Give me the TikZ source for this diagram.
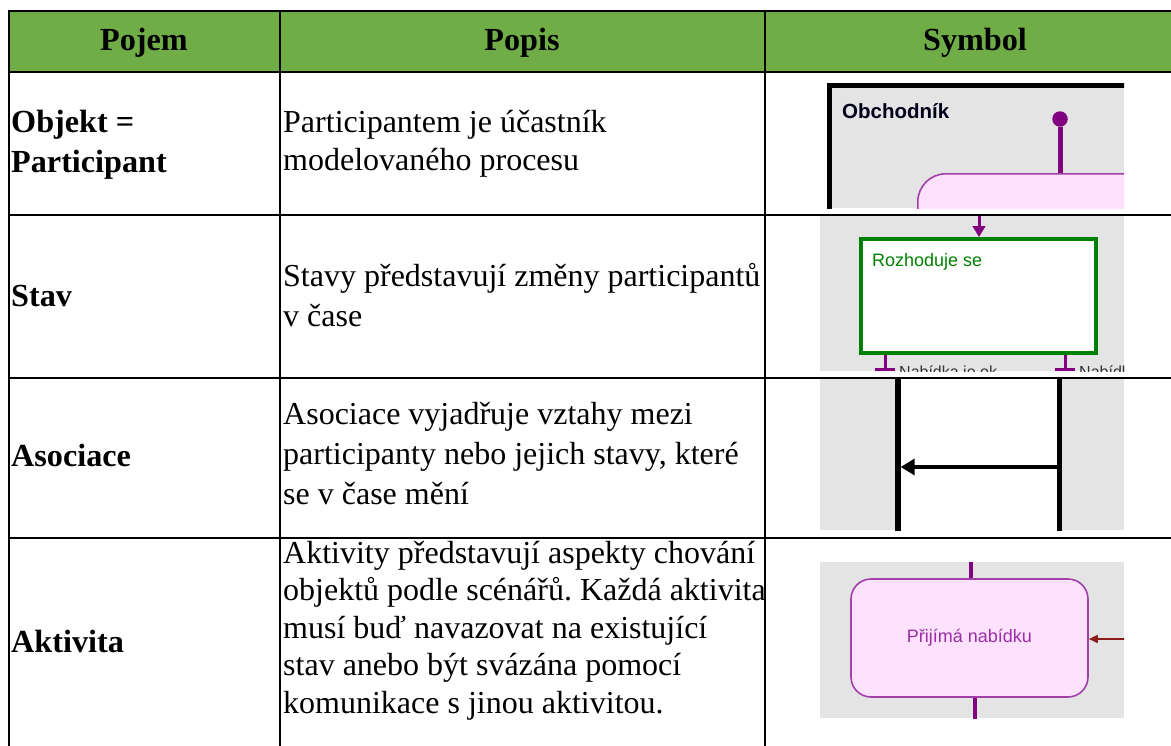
\documentclass[tikz,border=0pt]{standalone}
\usepackage{fontspec}
\setmainfont{Liberation Serif}
\newfontfamily\symsans{Liberation Sans}
\usetikzlibrary{arrows.meta}

\definecolor{hdrgreen}{HTML}{70AD47}
\definecolor{symgray}{HTML}{E4E4E4}
\definecolor{actpink}{HTML}{FDE1FD}
\definecolor{actedge}{HTML}{A040A8}
\definecolor{acttext}{HTML}{9A2FA6}
\definecolor{flowpurple}{HTML}{800080}
\definecolor{stategreen}{HTML}{008000}
\definecolor{msgred}{HTML}{8B1A1A}
\definecolor{labelgray}{HTML}{333333}

% stacked lines with a fixed baseline distance; the box baseline is the first line
\newcommand{\celllines}[2]{\vtop{\baselineskip=#1\relax\lineskip=0pt\lineskiplimit=-100pt #2}}
\frenchspacing

\begin{document}
\begin{tikzpicture}[x=1pt,y=-1pt,
  gridline/.style={line width=2.2pt,black},
  hdrtext/.style={font=\fontsize{32.2}{38}\selectfont\bfseries,anchor=base,inner sep=0pt},
  termtext/.style={font=\fontsize{32.2}{38}\selectfont\bfseries,anchor=base west,inner sep=0pt},
  desctext/.style={font=\fontsize{32}{38}\selectfont,anchor=base west,inner sep=0pt},
  symlabel/.style={font=\symsans\fontsize{18}{21}\selectfont,inner sep=0pt},
  flowline/.style={flowpurple,line width=3pt},
  actbox/.style={draw=actedge,fill=actpink,line width=1.6pt,inner sep=0pt}
]
\useasboundingbox (0,0) rectangle (1171,745);
\fill[white] (0,0) rectangle (1171,745);

% header band
\fill[hdrgreen] (9,11) rectangle (1180,72);

% table rules
\foreach \yy in {11,72,215,378,538}
  \draw[gridline] (8,\yy) -- (1180,\yy);
\foreach \xx in {9,280,765}
  \draw[gridline] (\xx,10) -- (\xx,746);

% header
\node[hdrtext] (hPojem) at (144,50) {Pojem};
\node[hdrtext] (hPopis) at (522,50) {Popis};
\node[hdrtext] (hSymbol) at (975,50) {Symbol};

% row 1
\node[termtext] (tObjekt) at (11,132) {\celllines{40pt}{\hbox{Objekt =}\hbox{Participant}}};
\node[desctext] (dObjekt) at (283,132) {\celllines{38pt}{\hbox{Participantem je účastník}\hbox{modelovaného procesu}}};
% row 2
\node[termtext] (tStav) at (11,306) {Stav};
\node[desctext] (dStav) at (283,286) {\celllines{40pt}{\hbox{Stavy představují změny participantů}\hbox{v čase}}};
% row 3
\node[termtext] (tAsoc) at (11,466) {Asociace};
\node[desctext] (dAsoc) at (283,424) {\celllines{40pt}{\hbox{Asociace vyjadřuje vztahy mezi}\hbox{participanty nebo jejich stavy, které}\hbox{se v čase mění}}};
% row 4
\node[termtext] (tAkt) at (11,652) {Aktivita};
\node[desctext] (dAkt) at (283,563) {\celllines{37.5pt}{\hbox{Aktivity představují aspekty chování}\hbox{objektů podle scénářů. Každá aktivita}\hbox{musí buď navazovat na existující}\hbox{stav anebo být svázána pomocí}\hbox{komunikace s jinou aktivitou.}}};

% symbol 1: participant lane
\begin{scope}
  \clip (820,73.2) rectangle (1124,208);
  \fill[white] (820,73.2) rectangle (1124,208);
  \fill[symgray] (827,83) rectangle (1124,208);
  \draw[line width=5pt] (829.5,210) -- (829.5,85.5) -- (1130,85.5);
  \node[font=\symsans\bfseries\fontsize{20.5}{24}\selectfont,anchor=base west,inner sep=0pt,text=black!90!blue] (lane) at (842,118.5) {Obchodník};
  \node[circle,fill=flowpurple,minimum size=15.5pt,inner sep=0pt] (startdot) at (1060,119) {};
  \node[actbox,rounded corners=28pt,minimum width=330pt,minimum height=120pt,anchor=north west] (act1) at (917,173) {};
  \draw[flowpurple,line width=5pt] (startdot) -- (act1.north west -| startdot);
\end{scope}

% symbol 2: state
\begin{scope}
  \clip (820,216.2) rectangle (1124,371);
  \fill[symgray] (820,216.2) rectangle (1124,371);
  \node[draw=stategreen,fill=white,line width=4.3pt,minimum width=234.7pt,minimum height=113.7pt,inner sep=0pt] (state) at (978.5,296) {};
  \node[symlabel,text=stategreen,anchor=base west] (statename) at (872,266) {Rozhoduje se};
  \coordinate (intop) at (979,214);
  \draw[flowline,-{Triangle[length=11pt,width=12.5pt]}] (intop) -- (state.north -| intop);
  \coordinate (outA) at (885,371);
  \coordinate (outB) at (1065,371);
  \draw[flowline] (state.south -| outA) -- (outA);
  \draw[flowline] (state.south -| outB) -- (outB);
  \draw[flowpurple,line width=3pt] (875,369.5) -- (895,369.5);
  \draw[flowpurple,line width=3pt] (1055,369.5) -- (1075,369.5);
  \node[font=\symsans\fontsize{16}{19}\selectfont,text=labelgray,anchor=base west,inner sep=0pt] (lblA) at (899,377.5) {Nabídka je ok};
  \node[font=\symsans\fontsize{16}{19}\selectfont,text=labelgray,anchor=base west,inner sep=0pt] (lblB) at (1079,377.5) {Nabídka};
\end{scope}

% symbol 3: association between two lifelines
\begin{scope}
  \clip (820,379.2) rectangle (1124,530);
  \fill[symgray] (820,379.2) rectangle (1124,530);
  \fill[white] (898,379.2) rectangle (1060,530);
  \coordinate (lifeL) at (898,378);
  \coordinate (lifeR) at (1059.7,378);
  \draw[line width=5.5pt] (lifeL) -- ++(0,160);
  \draw[line width=5.5pt] (lifeR) -- ++(0,160);
  \coordinate (assocfrom) at (1059.7,467);
  \coordinate (assocto) at (900.7,467);
  \draw[line width=4.6pt,-{Triangle[length=14pt,width=16pt]}] (assocfrom) -- (assocto);
\end{scope}

% symbol 4: activity
\begin{scope}
  \clip (820,562) rectangle (1124,718);
  \fill[symgray] (820,562) rectangle (1124,718);
  \node[actbox,rounded corners=20pt,minimum width=237pt,minimum height=118pt] (act4) at (969.5,638) {};
  \node[symlabel,text=acttext] (act4name) at (act4) {Přijímá nabídku};
  \coordinate (act4in) at (971,561);
  \coordinate (act4out) at (975,719);
  \coordinate (msgin) at (1126,639);
  \draw[flowpurple,line width=4pt] (act4in) -- (act4.north -| act4in);
  \draw[flowpurple,line width=4pt] (act4.south -| act4out) -- (act4out);
  \draw[msgred,line width=1.6pt,-{Triangle[length=9pt,width=8pt]}] (msgin) -- (act4.east |- msgin);
\end{scope}
\end{tikzpicture}
\end{document}
